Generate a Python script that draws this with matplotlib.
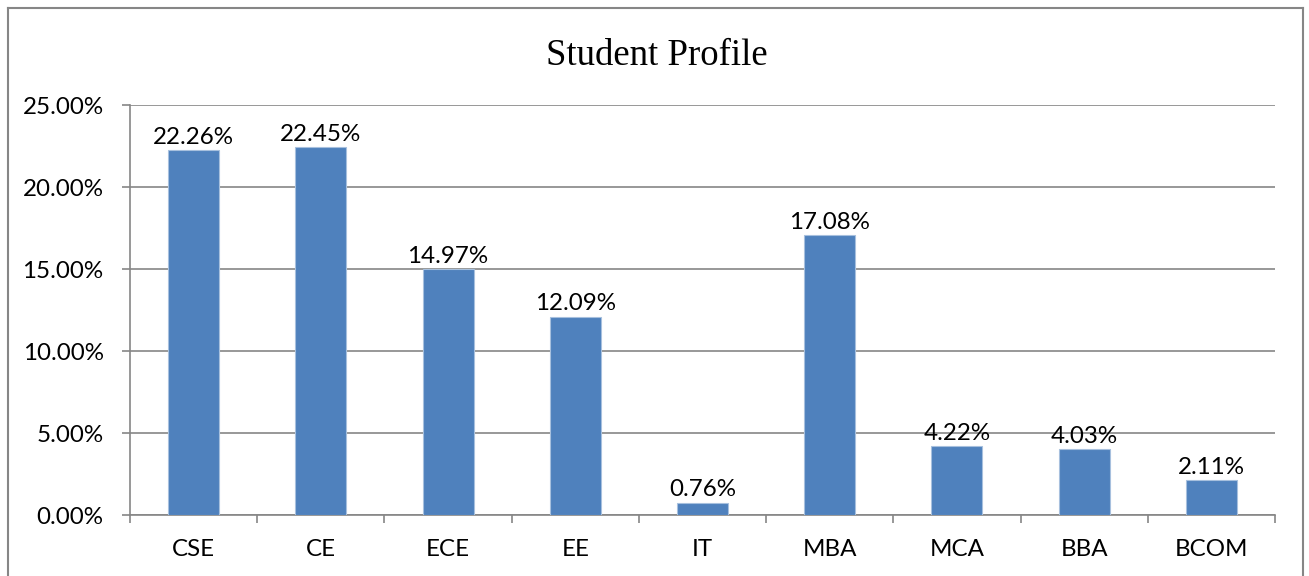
import matplotlib.pyplot as plt
from matplotlib.lines import Line2D
from matplotlib.ticker import FuncFormatter, FixedLocator

categories = ["CSE", "CE", "ECE", "EE", "IT", "MBA", "MCA", "BBA", "BCOM"]
shares = [22.26, 22.45, 14.97, 12.09, 0.76, 17.08, 4.22, 4.03, 2.11]
y_ticks = [0, 5, 10, 15, 20, 25]

BAR = "#4F81BD"
GRID = "#868686"
LABEL_FONT = ["Lato", "DejaVu Sans"]
FS = 17.4

fig = plt.figure(figsize=(13.09, 5.76), dpi=100)
ax = fig.add_axes([130 / 1309, 1 - 515 / 576, 1145 / 1309, 410 / 576])

x = range(len(categories))
bars = ax.bar(x, shares, width=0.4, color=BAR, edgecolor="#A7C0DE", linewidth=0.8, zorder=3)
for rect, v in zip(bars, shares):
    ax.annotate(
        f"{v:.2f}%",
        (rect.get_x() + rect.get_width() / 2, v),
        xytext=(0, 4.5),
        textcoords="offset points",
        ha="center",
        va="baseline",
        fontsize=FS,
        family=LABEL_FONT,
        color="black",
        zorder=4,
    )

ax.set_xlim(-0.5, len(categories) - 0.5)
ax.set_ylim(0, 25)
ax.set_yticks(y_ticks)
ax.yaxis.set_major_formatter(FuncFormatter(lambda v, _: f"{v:.2f}%"))
ax.set_xticks(list(x))
ax.set_xticklabels(categories)
ax.xaxis.set_minor_locator(FixedLocator([i - 0.5 for i in range(len(categories) + 1)]))
ax.tick_params(axis="x", which="major", length=0, pad=17, labelsize=FS)
ax.tick_params(axis="x", which="minor", length=6, width=1.2, color=GRID, direction="out")
ax.tick_params(axis="y", length=6, width=1.2, color=GRID, direction="out", pad=13, labelsize=FS)
for lab in ax.get_xticklabels() + ax.get_yticklabels():
    lab.set_family(LABEL_FONT)

ax.grid(axis="y", color=GRID, linewidth=1.2, zorder=0)
ax.set_axisbelow(True)
for side in ("top", "right"):
    ax.spines[side].set_visible(False)
for side in ("left", "bottom"):
    ax.spines[side].set_color(GRID)
    ax.spines[side].set_linewidth(1.2)

fig.text(657 / 1309, 1 - 56 / 576, "Student Profile", ha="center", va="center",
         fontsize=26.5, family="Liberation Serif")

# chart-area border (bottom edge falls outside the picture)
bx0, bx1, by1 = 8 / 1309, 1303 / 1309, 1 - 8 / 576
for xs, ys in (([bx0, bx0], [0, by1]), ([bx0, bx1], [by1, by1]), ([bx1, bx1], [by1, 0])):
    fig.add_artist(Line2D(xs, ys, color=GRID, linewidth=1.5, transform=fig.transFigure))

fig.savefig("out.png", dpi=100)
